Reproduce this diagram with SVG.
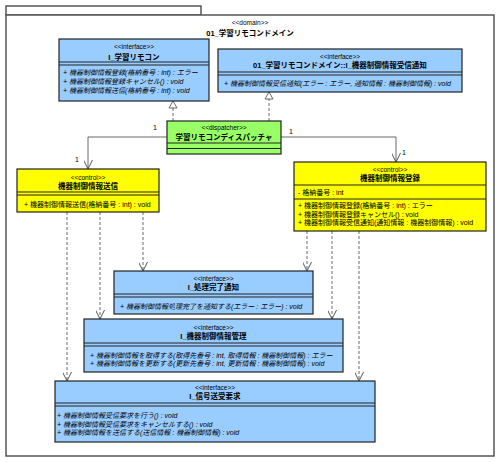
<svg xmlns="http://www.w3.org/2000/svg" width="500" height="462" viewBox="0 0 500 462">
<defs>
<style>
text{font-family:"Liberation Sans","Noto Sans CJK JP",sans-serif;fill:#000}
.st{font-size:6.5px;text-anchor:middle}
.nm{font-size:7.5px;font-weight:bold;text-anchor:middle}
.op{font-size:7px;font-style:italic}
.op2{font-size:7px}
.mul{font-size:7px}
.pkg{fill:#fff;stroke:#555;stroke-width:1.5}
.ifc{fill:#99CCFF;stroke:#222;stroke-width:1.2}
.ctl{fill:#FFFF00;stroke:#222;stroke-width:1.2}
.dsp{fill:#99FF66;stroke:#222;stroke-width:1.2}
.sep{stroke:#222;stroke-width:1}
.dep{fill:none;stroke:#444;stroke-width:0.8;stroke-dasharray:3,2}
.asc{fill:none;stroke:#444;stroke-width:0.8}
.tri{fill:#fff;stroke:#444;stroke-width:0.8}
</style>
<marker id="open" viewBox="0 0 10 10" refX="10" refY="5" markerWidth="9" markerHeight="9" markerUnits="userSpaceOnUse" orient="auto">
<path d="M0,0 L10,5 L0,10" fill="none" stroke="#444" stroke-width="1"/>
</marker>
</defs>

<g id="package">
<rect class="pkg" x="6" y="6" width="195" height="9"/>
<rect class="pkg" x="6" y="15" width="488" height="441"/>
<text class="st" x="250" y="25">&lt;&lt;domain&gt;&gt;</text>
<text class="nm" x="250" y="36">01_学習リモコンドメイン</text>
</g>

<g id="connectors">
<line class="dep" x1="173" y1="121" x2="173" y2="108"/>
<path class="tri" d="M173,101 L169,108 L177,108 Z"/>
<line class="dep" x1="269" y1="121" x2="269" y2="99"/>
<path class="tri" d="M269,92 L265,99 L273,99 Z"/>
<polyline class="asc" points="167,137 88,137 88,169" marker-end="url(#open)"/>
<polyline class="asc" points="281,137 396,137 396,162" marker-end="url(#open)"/>
<line class="dep" x1="67" y1="212" x2="67" y2="381" marker-end="url(#open)"/>
<line class="dep" x1="100" y1="212" x2="100" y2="319" marker-end="url(#open)"/>
<line class="dep" x1="143" y1="212" x2="143" y2="271" marker-end="url(#open)"/>
<line class="dep" x1="307" y1="231" x2="307" y2="271" marker-end="url(#open)"/>
<line class="dep" x1="332" y1="231" x2="332" y2="319" marker-end="url(#open)"/>
<line class="dep" x1="359" y1="231" x2="359" y2="381" marker-end="url(#open)"/>
<text class="mul" x="153" y="130">1</text>
<text class="mul" x="75" y="162">1</text>
<text class="mul" x="289" y="134">1</text>
<text class="mul" x="402" y="155">1</text>
</g>

<g id="I_gakushu_remocon">
<rect class="ifc" x="59" y="39" width="150" height="62"/>
<text class="st" x="134" y="49">&lt;&lt;interface&gt;&gt;</text>
<text class="nm" x="134" y="59.5">I_学習リモコン</text>
<line class="sep" x1="59" y1="62" x2="209" y2="62"/>
<line class="sep" x1="59" y1="65" x2="209" y2="65"/>
<text class="op" x="63" y="74.5">+ 機器制御情報登録(格納番号 : int) : エラー</text>
<text class="op" x="63" y="83.5">+ 機器制御情報登録キャンセル() : void</text>
<text class="op" x="63" y="92.5">+ 機器制御情報送信(格納番号 : int) : void</text>
</g>

<g id="I_jushin_tsuchi">
<rect class="ifc" x="218" y="49" width="244" height="43"/>
<text class="st" x="340" y="58.5">&lt;&lt;interface&gt;&gt;</text>
<text class="nm" x="340" y="68">01_学習リモコンドメイン::I_機器制御情報受信通知</text>
<line class="sep" x1="218" y1="72" x2="462" y2="72"/>
<line class="sep" x1="218" y1="75" x2="462" y2="75"/>
<text class="op" x="224" y="85.5">+ 機器制御情報受信通知(エラー : エラー, 通知情報 : 機器制御情報) : void</text>
</g>

<g id="dispatcher">
<rect class="dsp" x="167" y="121" width="114" height="33"/>
<text class="st" x="224" y="129.5">&lt;&lt;dispatcher&gt;&gt;</text>
<text class="nm" x="224" y="140">学習リモコンディスパッチャ</text>
<line class="sep" x1="167" y1="143" x2="281" y2="143"/>
<line class="sep" x1="167" y1="148.5" x2="281" y2="148.5"/>
</g>

<g id="soshin">
<rect class="ctl" x="17" y="169" width="142" height="43"/>
<text class="st" x="88" y="179.5">&lt;&lt;control&gt;&gt;</text>
<text class="nm" x="88" y="189">機器制御情報送信</text>
<line class="sep" x1="17" y1="192" x2="159" y2="192"/>
<line class="sep" x1="17" y1="195" x2="159" y2="195"/>
<text class="op2" x="24" y="206.5">+ 機器制御情報送信(格納番号 : int) : void</text>
</g>

<g id="toroku">
<rect class="ctl" x="294" y="162" width="192" height="69"/>
<text class="st" x="390" y="171.5">&lt;&lt;control&gt;&gt;</text>
<text class="nm" x="390" y="181">機器制御情報登録</text>
<line class="sep" x1="294" y1="185" x2="486" y2="185"/>
<text class="op2" x="298" y="194.5">- 格納番号 : int</text>
<line class="sep" x1="294" y1="199" x2="486" y2="199"/>
<text class="op2" x="298" y="208">+ 機器制御情報登録(格納番号 : int) : エラー</text>
<text class="op2" x="298" y="216.5">+ 機器制御情報登録キャンセル() : void</text>
<text class="op2" x="298" y="225">+ 機器制御情報受信通知(通知情報 : 機器制御情報) : void</text>
</g>

<g id="I_shori_kanryo">
<rect class="ifc" x="114" y="271" width="199" height="43"/>
<text class="st" x="213.5" y="280.5">&lt;&lt;interface&gt;&gt;</text>
<text class="nm" x="213.5" y="290">I_処理完了通知</text>
<line class="sep" x1="114" y1="294" x2="313" y2="294"/>
<line class="sep" x1="114" y1="297" x2="313" y2="297"/>
<text class="op" x="120" y="308.5">+ 機器制御情報処理完了を通知する(エラー : エラー) : void</text>
</g>

<g id="I_kanri">
<rect class="ifc" x="84" y="319" width="259" height="53"/>
<text class="st" x="213.5" y="329.5">&lt;&lt;interface&gt;&gt;</text>
<text class="nm" x="213.5" y="339">I_機器制御情報管理</text>
<line class="sep" x1="84" y1="343" x2="343" y2="343"/>
<line class="sep" x1="84" y1="346" x2="343" y2="346"/>
<text class="op" x="90" y="357.5">+ 機器制御情報を取得する(取得先番号 : int, 取得情報 : 機器制御情報) : エラー</text>
<text class="op" x="90" y="366">+ 機器制御情報を更新する(更新先番号 : int, 更新情報 : 機器制御情報) : void</text>
</g>

<g id="I_shingo">
<rect class="ifc" x="55" y="381" width="320" height="61"/>
<text class="st" x="215" y="389.5">&lt;&lt;interface&gt;&gt;</text>
<text class="nm" x="215" y="398.5">I_信号送受要求</text>
<line class="sep" x1="55" y1="403" x2="375" y2="403"/>
<line class="sep" x1="55" y1="406" x2="375" y2="406"/>
<text class="op" x="57" y="417.5">+ 機器制御情報受信要求を行う() : void</text>
<text class="op" x="57" y="426.5">+ 機器制御情報受信要求をキャンセルする() : void</text>
<text class="op" x="57" y="435">+ 機器制御情報を送信する(送信情報 : 機器制御情報) : void</text>
</g>
</svg>
